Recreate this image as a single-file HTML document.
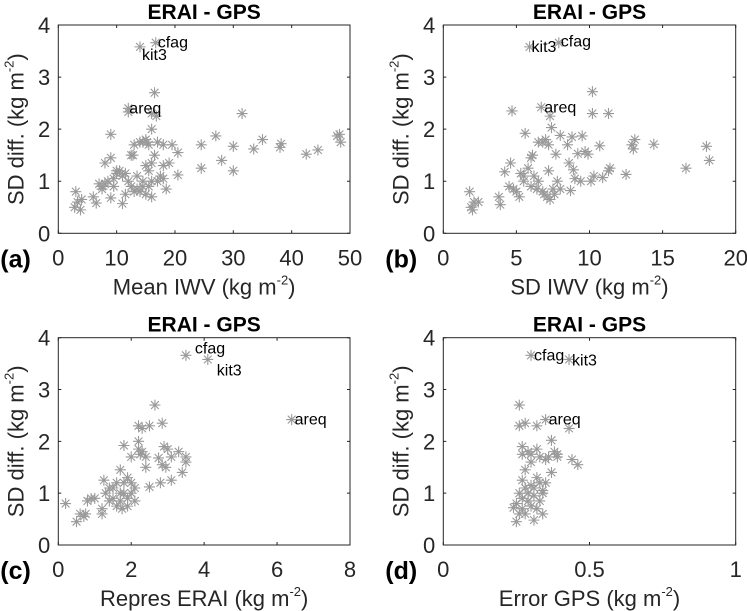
<!DOCTYPE html>
<html><head><meta charset="utf-8"><style>
html,body{margin:0;padding:0;background:#fff;}
svg{display:block;font-family:"Liberation Sans",sans-serif;}
</style></head><body>
<svg id="chart" width="747" height="611" viewBox="0 0 747 611" xmlns="http://www.w3.org/2000/svg"></svg>
<script>
// Panel (a): Mean IWV vs SD diff
const aX=[3,2.8,3.3,3.8,4,6,6.5,7,7.5,8,8.5,9,9,9,9.5,10,10.5,11,11,11.5,12,12,12.5,12.8,13,13,13.5,14,14,14,14.5,15,15,15,15.2,15.5,16,16,16,16.5,16.5,16.7,16.8,17,18,18,18.5,19,19.5,20.5,20.5,24.5,24.5,27,28,30,30,31.5,33.5,35,38,38.2,42.5,44.5,47.8,48.2,48.4,12,16,14.5,15.5,10,11.5,8,12.5,13.5,14.5,15.5,17,17.5,18,7.5,9.5,16];
const aY=[0.8,0.5,0.6,0.45,0.65,0.7,0.58,0.95,0.9,1.35,1.0,1.9,1.45,0.68,0.9,1.2,1.2,1.1,0.57,0.75,1.0,2.4,1.5,1.5,1.7,0.8,1.1,3.58,1.75,0.8,1.0,1.8,1.3,0.75,1.75,1.2,2.0,0.7,1.0,2.7,1.5,3.66,2.25,1.75,1.7,1.3,0.85,1.35,1.7,1.55,1.12,1.7,1.25,1.87,1.4,1.67,1.2,2.3,1.62,1.8,1.65,1.72,1.52,1.6,1.87,1.9,1.75,2.33,2.3,1.75,1.7,1.15,1.15,0.95,0.9,0.85,0.9,0.9,1.0,1.1,1.05,0.85,1.05,1.35];
// Panel (b): SD IWV vs SD diff
const bX=[1.8,1.9,2.0,2.1,2.4,3.8,3.9,4.2,4.5,4.6,4.7,5.0,5.2,5.3,5.5,5.6,5.8,5.9,6.0,6.1,6.2,6.4,6.5,6.7,6.8,6.9,7.0,7.1,7.2,7.3,7.3,7.4,7.5,7.7,7.8,7.9,8.0,8.0,8.5,8.6,8.7,8.8,8.9,9.0,9.2,9.4,9.5,9.7,9.9,10.1,10.2,10.2,10.3,10.7,10.9,11.3,11.3,11.4,12.5,12.9,13.0,13.1,14.4,16.6,18.0,18.2,6.5,7.2,5.5,6.0,4.8,6.8,7.6];
const bY=[0.8,0.5,0.45,0.6,0.6,0.7,0.55,1.18,0.9,1.35,2.35,0.8,0.7,1.15,1.0,1.92,1.25,3.58,1.45,1.5,1.1,0.85,1.0,2.42,1.75,0.75,1.8,0.7,1.2,2.25,0.65,2.03,0.85,1.52,1.0,3.66,0.85,1.88,1.7,1.35,0.82,1.85,1.22,1.05,1.53,1.0,1.87,1.57,1.52,1.0,2.72,2.3,1.1,1.68,1.07,2.3,1.2,1.25,1.13,1.7,1.62,1.8,1.71,1.25,1.67,1.4,1.75,1.7,1.1,0.9,0.85,0.8,0.75];
// Panel (c): Repres ERAI vs SD diff
const cX=[0.2,0.5,0.6,0.7,0.75,0.8,0.9,1.0,1.2,1.2,1.25,1.3,1.4,1.5,1.6,1.7,1.7,1.75,1.8,1.8,1.9,1.9,2.0,2.0,2.1,2.2,2.2,2.2,2.25,2.3,2.3,2.4,2.4,2.5,2.5,2.65,2.75,2.8,2.85,2.85,2.9,2.95,3.0,3.1,3.1,3.3,3.4,3.5,3.5,3.5,4.1,6.4,1.4,1.6,1.8,2.0,2.1,1.5,1.7,1.9];
const cY=[0.8,0.45,0.6,0.55,0.6,0.85,0.9,0.9,0.7,0.6,1.25,1.0,0.85,1.1,0.75,1.45,1.0,0.7,1.92,1.2,0.9,1.3,1.0,1.7,0.85,1.85,2.0,2.3,1.75,2.25,1.8,1.5,1.7,1.12,2.3,2.7,1.68,1.2,2.35,1.55,1.9,1.5,1.85,1.25,1.7,1.8,1.4,1.7,1.6,3.66,3.58,2.42,1.1,1.2,1.0,1.2,1.1,0.9,0.85,0.75];
// Panel (d): Error GPS vs SD diff
const dX=[0.25,0.24,0.25,0.26,0.26,0.27,0.27,0.27,0.27,0.28,0.28,0.28,0.29,0.29,0.3,0.3,0.3,0.31,0.31,0.32,0.32,0.32,0.33,0.33,0.34,0.34,0.34,0.35,0.35,0.35,0.36,0.37,0.37,0.38,0.39,0.39,0.43,0.43,0.44,0.46,0.26,0.27,0.29,0.3,0.31,0.32,0.33,0.28,0.26,0.3];
const dY=[0.45,0.72,0.8,2.7,2.3,1.9,1.75,1.25,0.9,1.45,0.6,2.35,1.8,1.0,0.75,1.6,3.66,0.48,1.1,1.3,1.85,2.3,0.85,1.7,1.05,1.0,0.6,1.65,2.42,1.2,1.7,2.02,1.4,1.8,1.75,1.7,2.25,3.58,1.65,1.55,1.0,0.7,0.85,1.15,0.95,0.7,1.2,1.1,0.6,1.75];
const aTicks=[0,10,20,30,40,50], bTicks=[0,5,10,15,20], cTicks=[0,2,4,6,8], dTicks=[0,0.5,1];
const yTicks=[0,1,2,3,4];
const aLabels=["cfag","kit3","areq"], aLabelX=[16.7,14,12], aLabelY=[3.66,3.58,2.4];
const bLabels=["kit3","cfag","areq"], bLabelX=[5.9,7.9,6.7], bLabelY=[3.58,3.66,2.42];
const cLabels=["cfag","kit3","areq"], cLabelX=[3.5,4.1,6.4], cLabelY=[3.66,3.58,2.42];
const dLabels=["cfag","kit3","areq"], dLabelX=[0.3,0.43,0.35], dLabelY=[3.66,3.58,2.42];

const NS="http://www.w3.org/2000/svg";
const svg=document.getElementById('chart');
function mk(tag,attrs,parent){const e=document.createElementNS(NS,tag);for(const k in attrs)e.setAttribute(k,attrs[k]);(parent||svg).appendChild(e);return e;}

const panels=[
 {id:'a',L:58.3,R:350,T:25,B:233.3,xmax:50,xs:aX,ys:aY,ticks:aTicks,xlab:"Mean IWV",labels:aLabels,lx:aLabelX,ly:aLabelY,off:[[2,5],[2,13],[1,5]]},
 {id:'b',L:443.3,R:735.7,T:25,B:233.3,xmax:20,xs:bX,ys:bY,ticks:bTicks,xlab:"SD IWV",labels:bLabels,lx:bLabelX,ly:bLabelY,off:[[2,5],[2,4],[3,5]]},
 {id:'c',L:58.3,R:350,T:337.7,B:545,xmax:8,xs:cX,ys:cY,ticks:cTicks,xlab:"Repres ERAI",labels:cLabels,lx:cLabelX,ly:cLabelY,off:[[9,-2],[9,16],[3,5]]},
 {id:'d',L:443.3,R:735.7,T:337.7,B:545,xmax:1,xs:dX,ys:dY,ticks:dTicks,xlab:"Error GPS",labels:dLabels,lx:dLabelX,ly:dLabelY,off:[[3,5],[3,6],[3,5]]}
];

panels.forEach(p=>{
 const g=mk('g',{});
 
 
 const sx=v=>p.L+(v/p.xmax)*(p.R-p.L);
 const sy=v=>p.B-(v/4)*(p.B-p.T);
 const pg=mk('g',{stroke:'#9a9a9a','stroke-width':1.1,fill:'none'},g);
 
 
 const r=5.5,d=r*0.707;
 for(let i=0;i<p.xs.length;i++){
  const x=sx(p.xs[i]),y=sy(p.ys[i]);
  const pt=mk('path',{d:`M${x-r},${y}H${x+r}M${x},${y-r}V${y+r}M${x-d},${y-d}L${x+d},${y+d}M${x-d},${y+d}L${x+d},${y-d}`},pg);
  
  
 }
 const box=mk('rect',{x:p.L,y:p.T,width:p.R-p.L,height:p.B-p.T,fill:'none',stroke:'#262626','stroke-width':1},g);
 
 
 p.ticks.forEach(t=>{
  const x=sx(t);
  mk('path',{d:`M${x},${p.B}V${p.B-3}M${x},${p.T}V${p.T+3}`,stroke:'#262626','stroke-width':1},g);
  const tl=mk('text',{x:x,y:p.B+32,'text-anchor':'middle','font-size':22,fill:'#262626'},g);
  tl.textContent=String(t);
  
  
 });
 yTicks.forEach(t=>{
  const y=sy(t);
  mk('path',{d:`M${p.L},${y}H${p.L+3}M${p.R},${y}H${p.R-3}`,stroke:'#262626','stroke-width':1},g);
  const tl=mk('text',{x:p.L-8,y:y+8,'text-anchor':'end','font-size':22,fill:'#262626'},g);
  tl.textContent=String(t);
  
  
 });
 const ti=mk('text',{x:(p.L+p.R)/2,y:p.T-6,'text-anchor':'middle','font-size':21,'font-weight':'bold',fill:'#000'},g);
 ti.textContent="ERAI - GPS";
 
 
 const xl=mk('text',{x:(p.L+p.R)/2,y:p.B+61,'text-anchor':'middle','font-size':22,fill:'#262626'},g);
 xl.innerHTML=p.xlab+' (kg m<tspan font-size="13" dy="-10">-2</tspan><tspan dy="10">)</tspan>';
 
 
 const cy=(p.T+p.B)/2, cx=p.L-35;
 const yl=mk('text',{x:cx,y:cy,'text-anchor':'middle','font-size':22,fill:'#262626',transform:`rotate(-90 ${cx} ${cy})`},g);
 yl.innerHTML='SD diff. (kg m<tspan font-size="13" dy="-10">-2</tspan><tspan dy="10">)</tspan>';
 
 
 const pl=mk('text',{x:p.L-58,y:p.B+34,'font-size':25,'font-weight':'bold',fill:'#000'},g);
 pl.textContent='('+p.id+')';
 
 
 p.labels.forEach((s,i)=>{
  const st=mk('text',{x:sx(p.lx[i])+p.off[i][0],y:sy(p.ly[i])+p.off[i][1],'font-size':16,fill:'#000'},g);
  st.textContent=s;
  
  
 });
});
</script>
</body></html>
